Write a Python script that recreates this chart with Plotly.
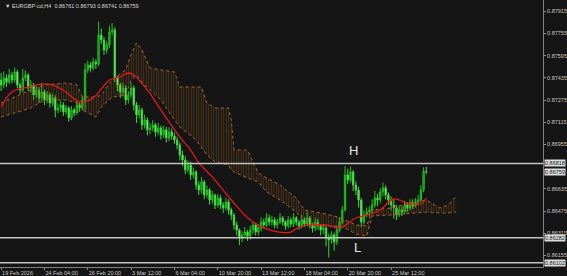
import plotly.graph_objects as go

# ---------------- data ----------------
first_open = 0.87420
close = [0.87384,0.87434,0.87405,0.87456,0.87420,0.87478,0.87384,0.87348,0.87434,0.87456,
0.87362,0.87384,0.87312,0.87348,0.87290,0.87333,0.87276,0.87312,0.87254,0.87290,
0.87204,0.87218,0.87240,0.87189,0.87218,0.87146,0.87204,0.87182,0.87240,0.87218,
0.87276,0.87492,0.87528,0.87506,0.87550,0.87535,0.87744,0.87708,0.87636,0.87672,
0.87766,0.87780,0.87434,0.87384,0.87333,0.87362,0.87276,0.87312,0.87362,0.87240,
0.87168,0.87204,0.87096,0.87132,0.87060,0.87074,0.87096,0.87045,0.87074,0.87024,
0.87060,0.87002,0.87045,0.87016,0.86987,0.86951,0.86879,0.86843,0.86771,0.86807,
0.86735,0.86757,0.86663,0.86627,0.86685,0.86591,0.86627,0.86555,0.86591,0.86519,
0.86569,0.86519,0.86497,0.86541,0.86483,0.86447,0.86375,0.86339,0.86281,0.86303,
0.86324,0.86295,0.86339,0.86375,0.86324,0.86353,0.86396,0.86375,0.86425,0.86396,
0.86411,0.86375,0.86396,0.86425,0.86396,0.86368,0.86411,0.86382,0.86425,0.86396,
0.86368,0.86411,0.86382,0.86425,0.86375,0.86353,0.86396,0.86368,0.86339,0.86353,
0.86281,0.86267,0.86303,0.86252,0.86339,0.86396,0.86483,0.86735,0.86699,0.86757,
0.86663,0.86627,0.86555,0.86396,0.86447,0.86468,0.86483,0.86519,0.86569,0.86555,
0.86613,0.86642,0.86591,0.86555,0.86519,0.86497,0.86447,0.86483,0.86468,0.86519,
0.86497,0.86533,0.86512,0.86541,0.86555,0.86627,0.86761,0.86759]
high = [0.87470,0.87480,0.87460,0.87500,0.87480,0.87510,0.87495,0.87400,0.87500,0.87490,
0.87470,0.87420,0.87400,0.87380,0.87370,0.87400,0.87350,0.87340,0.87330,0.87320,
0.87310,0.87250,0.87270,0.87260,0.87240,0.87230,0.87230,0.87220,0.87270,0.87260,
0.87300,0.87540,0.87560,0.87550,0.87580,0.87570,0.87840,0.87790,0.87730,0.87700,
0.87810,0.87830,0.87800,0.87450,0.87400,0.87400,0.87380,0.87340,0.87400,0.87380,
0.87260,0.87240,0.87220,0.87170,0.87150,0.87110,0.87130,0.87110,0.87110,0.87090,
0.87090,0.87080,0.87080,0.87070,0.87040,0.87010,0.86970,0.86910,0.86870,0.86840,
0.86830,0.86790,0.86770,0.86690,0.86720,0.86700,0.86660,0.86640,0.86620,0.86600,
0.86600,0.86590,0.86540,0.86570,0.86560,0.86500,0.86460,0.86400,0.86350,0.86330,
0.86360,0.86340,0.86370,0.86400,0.86390,0.86380,0.86430,0.86420,0.86460,0.86450,
0.86440,0.86430,0.86420,0.86460,0.86440,0.86410,0.86440,0.86430,0.86460,0.86440,
0.86410,0.86450,0.86430,0.86470,0.86440,0.86390,0.86430,0.86420,0.86380,0.86380,
0.86370,0.86310,0.86330,0.86320,0.86370,0.86430,0.86510,0.86800,0.86780,0.86795,
0.86770,0.86690,0.86650,0.86570,0.86480,0.86500,0.86510,0.86560,0.86620,0.86600,
0.86640,0.86680,0.86660,0.86610,0.86580,0.86560,0.86520,0.86510,0.86510,0.86550,
0.86540,0.86560,0.86560,0.86570,0.86590,0.86660,0.86790,0.86793]
low = [0.87340,0.87360,0.87370,0.87390,0.87395,0.87400,0.87360,0.87320,0.87330,0.87410,
0.87340,0.87330,0.87276,0.87290,0.87254,0.87270,0.87240,0.87250,0.87220,0.87230,
0.87150,0.87180,0.87190,0.87160,0.87170,0.87120,0.87130,0.87160,0.87170,0.87190,
0.87200,0.87200,0.87470,0.87480,0.87490,0.87500,0.87520,0.87680,0.87600,0.87610,
0.87650,0.87740,0.87405,0.87340,0.87290,0.87300,0.87240,0.87250,0.87290,0.87200,
0.87110,0.87140,0.87060,0.87070,0.87020,0.87030,0.87050,0.87010,0.87020,0.86990,
0.87000,0.86970,0.86980,0.86990,0.86960,0.86920,0.86840,0.86800,0.86740,0.86750,
0.86700,0.86710,0.86630,0.86590,0.86600,0.86560,0.86570,0.86520,0.86530,0.86490,
0.86500,0.86490,0.86460,0.86480,0.86450,0.86410,0.86340,0.86300,0.86230,0.86250,
0.86280,0.86260,0.86270,0.86310,0.86300,0.86300,0.86330,0.86350,0.86360,0.86370,
0.86370,0.86350,0.86350,0.86380,0.86370,0.86340,0.86350,0.86360,0.86360,0.86370,
0.86340,0.86350,0.86360,0.86370,0.86350,0.86320,0.86330,0.86340,0.86300,0.86310,
0.86220,0.86140,0.86240,0.86190,0.86230,0.86320,0.86380,0.86470,0.86670,0.86680,
0.86620,0.86590,0.86500,0.86360,0.86380,0.86430,0.86440,0.86460,0.86500,0.86510,
0.86530,0.86580,0.86560,0.86520,0.86480,0.86420,0.86410,0.86430,0.86440,0.86450,
0.86470,0.86480,0.86490,0.86500,0.86520,0.86540,0.86610,0.86741]
opens = [first_open] + close[:-1]
bars = list(range(len(close)))

ma_bar = [0,4,10,16,19,24,29,34,40,44,47,49,54,59,66,70,73,78,85,92,99,107,110,120,125,131,135,140,145,150,155,157]
ma_val = [0.87225,0.87333,0.87369,0.87391,0.87384,0.87333,0.87261,0.87290,0.87420,0.87442,
0.87470,0.87456,0.87348,0.87204,0.87009,0.86915,0.86822,0.86721,0.86555,0.86411,
0.86339,0.86324,0.86360,0.86375,0.86353,0.86425,0.86447,0.86483,0.86562,0.86533,
0.86526,0.86569]

cloud_bar = [0,5,11,16,24,28,30,35,37,41,46,48,50,52,55,59,64,66,72,74,76,79,84,85,86,91,93,95,98,103,109,112,118,123,127,131,135,137,144,151,157,162,165,168]
cloud_top = [0.87254,0.87297,0.87348,0.87384,0.87398,0.87384,0.87297,0.87297,0.87312,0.87420,
0.87492,0.87600,0.87687,0.87636,0.87506,0.87492,0.87478,0.87369,0.87369,0.87369,
0.87254,0.87218,0.87218,0.87132,0.86915,0.86915,0.86829,0.86750,0.86714,0.86663,
0.86569,0.86483,0.86461,0.86440,0.86411,0.86375,0.86368,0.86483,0.86497,0.86533,
0.86555,0.86497,0.86519,0.86577]
cloud_bot = [0.87153,0.87182,0.87218,0.87276,0.87276,0.87254,0.87204,0.87153,0.87225,0.87297,
0.87312,0.87420,0.87456,0.87405,0.87348,0.87276,0.87132,0.87081,0.86987,0.86930,
0.86879,0.86829,0.86807,0.86771,0.86757,0.86714,0.86699,0.86685,0.86613,0.86555,
0.86468,0.86396,0.86368,0.86368,0.86353,0.86310,0.86295,0.86440,0.86447,0.86461,
0.86468,0.86461,0.86461,0.86468]

levels = [0.86818, 0.86282, 0.86102]
level_labels = ["0.86818", "0.86282", "0.86102"]
bid = 0.86759
bid_label = "0.86759"

y_ticks = [0.87915,0.87755,0.87595,0.87435,0.87275,0.87115,0.86955,0.86635,0.86475,0.86315,0.86155]
y_tick_text = ["0.87915","0.87755","0.87595","0.87435","0.87275","0.87115","0.86955","0.86635","0.86475","0.86315","0.86155"]
x_ticks = [0,16,32,48,64,80,96,112,128,144]
x_tick_text = ["19 Feb 2026","24 Feb 04:00","26 Feb 20:00","3 Mar 12:00","6 Mar 04:00",
               "10 Mar 20:00","13 Mar 12:00","18 Mar 04:00","20 Mar 20:00","25 Mar 12:00"]
title_text = "\u25bc EURGBP-cd,H4  0.86761 0.86793 0.86741 0.86759"
marks = [("H", 0.86915, 130), ("L", 0.86216, 131.5)]

BG = "#151515"
FONT = "Liberation Sans"

fig = go.Figure()
fig.add_trace(go.Scatter(x=cloud_bar, y=cloud_bot, mode="lines",
                         line=dict(color="#a9652a", width=1, dash="dot"),
                         hoverinfo="skip", showlegend=False))
fig.add_trace(go.Scatter(x=cloud_bar, y=cloud_top, mode="lines",
                         line=dict(color="#a9652a", width=1, dash="dot"),
                         fill="tonexty", fillcolor="rgba(0,0,0,0)",
                         fillpattern=dict(shape="|", fgcolor="#8f5521", bgcolor="rgba(0,0,0,0)",
                                          size=2.5, solidity=0.4),
                         hoverinfo="skip", showlegend=False))
fig.add_trace(go.Candlestick(x=bars, open=opens, high=high, low=low, close=close,
                             increasing=dict(line=dict(color="#1fc41f", width=1), fillcolor="#0d7a0d"),
                             decreasing=dict(line=dict(color="#3ad83a", width=1), fillcolor="#b4f5b4"),
                             whiskerwidth=0, showlegend=False))
fig.add_trace(go.Scatter(x=ma_bar, y=ma_val, mode="lines", line=dict(color="#e3191b", width=1.3),
                         line_shape="spline", hoverinfo="skip", showlegend=False))

for lv, lab in zip(levels, level_labels):
    fig.add_shape(type="line", xref="paper", x0=0, x1=1, yref="y", y0=lv, y1=lv,
                  line=dict(color="#c4c4c4", width=1.5))
    fig.add_annotation(xref="paper", x=1.0, y=lv, yref="y", text=lab, showarrow=False,
                       xanchor="left", xshift=1, bgcolor="#dcdcdc", borderpad=0,
                       font=dict(family=FONT, size=5.5, color="#202020"))
fig.add_annotation(xref="paper", x=1.0, y=bid, yref="y", text=bid_label, showarrow=False,
                   xanchor="left", xshift=1, bgcolor="#dcdcdc", borderpad=0,
                   font=dict(family=FONT, size=5.5, color="#202020"))

for t, yv, xv in marks:
    fig.add_annotation(x=xv, y=yv, text=t, showarrow=False,
                       font=dict(family=FONT, size=13, color="#e8e8e8"))

fig.add_annotation(xref="paper", yref="paper", x=0.005, y=0.995, xanchor="left", yanchor="top",
                   text=title_text, showarrow=False,
                   font=dict(family=FONT, size=5.5, color="#d8d8d8"))

fig.update_layout(
    width=567, height=276, margin=dict(l=0, r=24, t=0, b=9),
    paper_bgcolor=BG, plot_bgcolor=BG, showlegend=False,
    xaxis=dict(range=[-0.4, 200.1], rangeslider=dict(visible=False), showgrid=False, zeroline=False,
               tickvals=x_ticks, ticktext=x_tick_text, ticks="outside", ticklen=2,
               tickcolor="#909090", ticklabelposition="outside right",
               tickfont=dict(family=FONT, size=5.5, color="#c8c8c8"),
               showline=True, linecolor="#808080", linewidth=1),
    yaxis=dict(range=[0.86072, 0.87996], side="right", showgrid=False, zeroline=False,
               tickvals=y_ticks, ticktext=y_tick_text, ticks="outside", ticklen=2,
               tickcolor="#909090", tickfont=dict(family=FONT, size=5.5, color="#c8c8c8"),
               showline=True, linecolor="#808080", linewidth=1),
)
fig.write_html("out.html")
